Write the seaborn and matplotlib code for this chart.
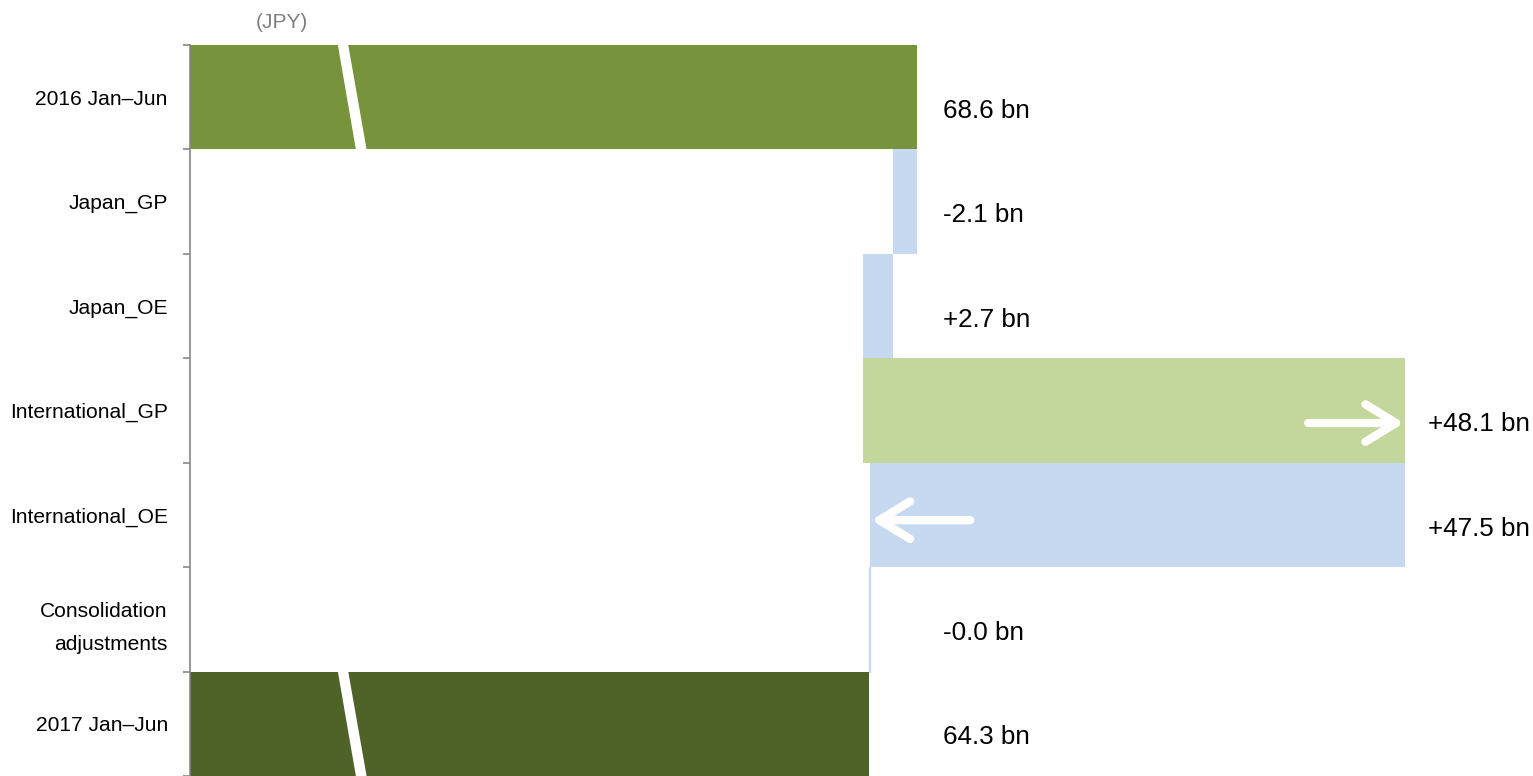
import numpy as np
import pandas as pd
import matplotlib
matplotlib.use("Agg")
import matplotlib.pyplot as plt
import seaborn as sns

# data
categories = ["2016 Jan–Jun", "Japan_GP", "Japan_OE", "International_GP",
              "International_OE", "Consolidation\nadjustments", "2017 Jan–Jun"]
effect = [68.6, -2.1, -2.7, 48.1, -47.5, -0.04, 64.3]   # effect on profit (bn JPY)
is_total = [True, False, False, False, False, False, True]
value_labels = ["68.6 bn", "-2.1 bn", "+2.7 bn", "+48.1 bn", "+47.5 bn", "-0.0 bn", "64.3 bn"]
colors = ["#77933C", "#C6D9F1", "#C6D9F1", "#C3D69B", "#C6D9F1", "#C6D9F1", "#4F6228"]

# waterfall start / end
starts, ends = [], []
run = 0.0
for v, tot in zip(effect, is_total):
    if tot:
        starts.append(0.0)
        ends.append(v)
        run = v
    else:
        starts.append(run)
        run = run + v
        ends.append(run)
lo = [min(a, b) for a, b in zip(starts, ends)]
hi = [max(a, b) for a, b in zip(starts, ends)]

df = pd.DataFrame({"category": categories, "end": ends})

sns.set_style("white")
plt.rcParams["font.family"] = ["Liberation Sans", "DejaVu Sans"]

fig = plt.figure(figsize=(15.33, 7.76), dpi=100)
ax = fig.add_axes([190 / 1533, 0, 1343 / 1533, 731 / 776])

sns.barplot(data=df, x="end", y="category", hue="category", palette=colors,
            width=1.0, saturation=1, legend=False, orient="h", ax=ax, linewidth=0)

# turn bars into floating waterfall bars
for p in ax.patches:
    i = int(round(p.get_y() + p.get_height() / 2))
    p.set_x(lo[i])
    p.set_width(hi[i] - lo[i])
    if categories[i].startswith("Consolidation"):
        p.set_edgecolor("#C6D9F1")
        p.set_linewidth(1)

ax.set_xlim(4.08, 123.25)
ax.set_ylim(6.5, -0.5)

# axis-break marks on total bars
for i, tot in enumerate(is_total):
    if tot:
        bx = 17.2
        poly = plt.Polygon([(bx, i - 0.5), (bx + 0.92, i - 0.5),
                            (bx + 2.55, i + 0.5), (bx + 1.6, i + 0.5)],
                           closed=True, color="white", lw=0, zorder=3)
        ax.add_patch(poly)

# value labels
for i, lab in enumerate(value_labels):
    lx = max(70.9, hi[i] + 2.0)
    ax.text(lx, i + 0.13, lab, fontsize=18.7, va="center", ha="left", color="black")

# white arrows inside international bars
arrow_kw = dict(arrowstyle="->,head_length=2.2,head_width=1.35", lw=6, color="white",
                shrinkA=0, shrinkB=0, mutation_scale=10, capstyle="round")
ax.annotate("", xy=(hi[3] - 0.1, 3.12), xytext=(hi[3] - 8.6, 3.12), arrowprops=arrow_kw)
ax.annotate("", xy=(lo[4] + 0.15, 4.05), xytext=(lo[4] + 8.9, 4.05), arrowprops=arrow_kw)

# axes styling
for s in ["top", "right", "bottom"]:
    ax.spines[s].set_visible(False)
ax.spines["left"].set_color("#868686")
ax.spines["left"].set_linewidth(1.2)
ax.set_xticks([])
ax.set_xlabel("")
ax.set_ylabel("")
ax.set_yticks(range(len(categories)))
ax.set_yticklabels(categories, fontsize=15.1, color="black")
for t in ax.get_yticklabels():
    t.set_linespacing(1.9)
ax.tick_params(axis="y", which="major", length=0, pad=16)
ax.set_yticks(np.arange(-0.5, len(categories), 1.0), minor=True)
ax.tick_params(axis="y", which="minor", length=5, width=1.2, color="#868686", direction="out", left=True)

fig.text(282 / 1533, 1 - 22 / 776, "(JPY)", fontsize=15, color="#7F7F7F", ha="center", va="center")

fig.savefig("out.png", dpi=100)
